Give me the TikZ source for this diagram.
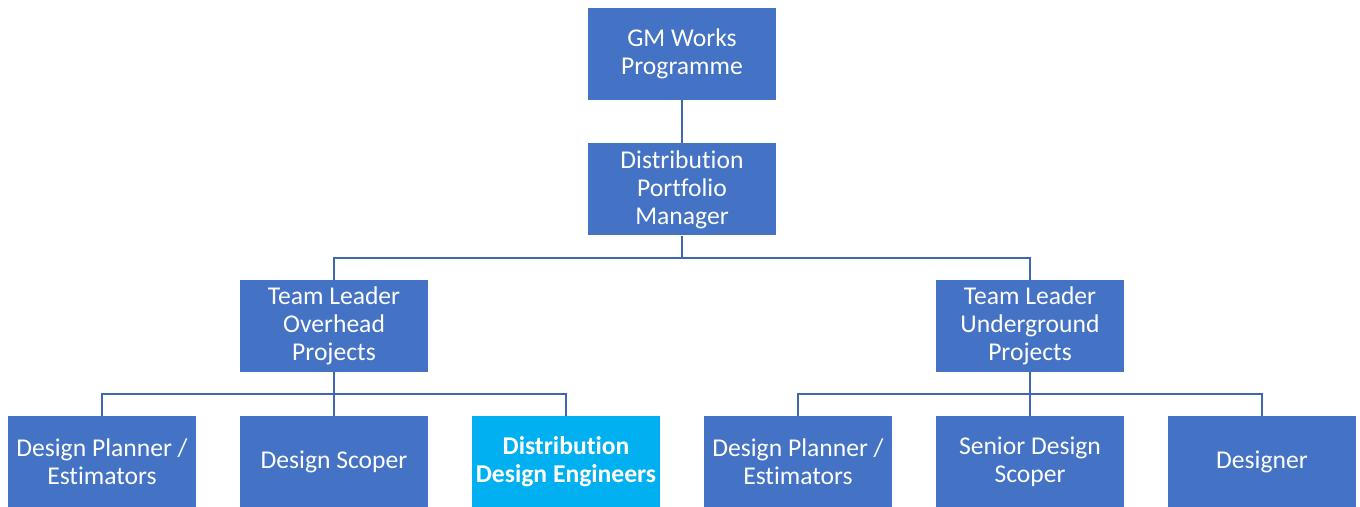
\documentclass[tikz,border=0pt]{standalone}
\usepackage{fontspec}
\setmainfont{Carlito}[Ligatures=NoCommon]
\usepackage{tikz}
\usetikzlibrary{positioning}

\definecolor{boxblue}{HTML}{4472C4}
\definecolor{lineblue}{HTML}{4068B0}
\definecolor{hiblue}{HTML}{00B0F0}

\begin{document}
\begin{tikzpicture}[x=0.5pt,y=-0.5pt,every text node part/.style={align=center}]
		\tikzstyle{role}=[rectangle,fill=boxblue,text=white,draw=none,
                  minimum width=94pt,minimum height=46pt,inner sep=1pt,
                  font=\fontsize{12.8}{14}\selectfont]
		\tikzstyle{link}=[draw=lineblue,line width=1pt]

    	\useasboundingbox (0,0) rectangle (1360,507);

    	\node[role] (gm) at (682,54) {GM Works\\Programme};
    	\node[role] (dpm) at (682,189.5) {Distribution\\Portfolio\\Manager};

     	\foreach \name/\x/\txt in {tlo/334/Overhead, tlu/1030/Underground}
       		\node[role] (\name) at (\x,326) {Team Leader\\\txt\\Projects};

     	\foreach \name/\x/\txt in {dpe/102/{Design Planner /\\Estimators},
     	                           ds/334/{Design Scoper},
     	                           dpu/798/{Design Planner /\\Estimators},
     	                           sds/1030/{Senior Design\\Scoper},
     	                           dsg/1262/{Designer}}
       		\node[role] (\name) at (\x,462) {\txt};
    	\node[role,fill=hiblue,font=\fontsize{12.8}{14}\selectfont\bfseries] (dde) at (566,462) {Distribution\\Design Engineers};

        % links

        \draw[link] (gm) -- (dpm);

        \foreach \tname in {tlo, tlu}
            \draw[link] (dpm.south) -- ++(0,22) -| (\tname.north);

        \foreach \sname in {dpe, ds, dde}
            \draw[link] (tlo.south) -- ++(0,22) -| (\sname.north);

        \foreach \sname in {dpu, sds, dsg}
            \draw[link] (tlu.south) -- ++(0,22) -| (\sname.north);

	\end{tikzpicture}
\end{document}
